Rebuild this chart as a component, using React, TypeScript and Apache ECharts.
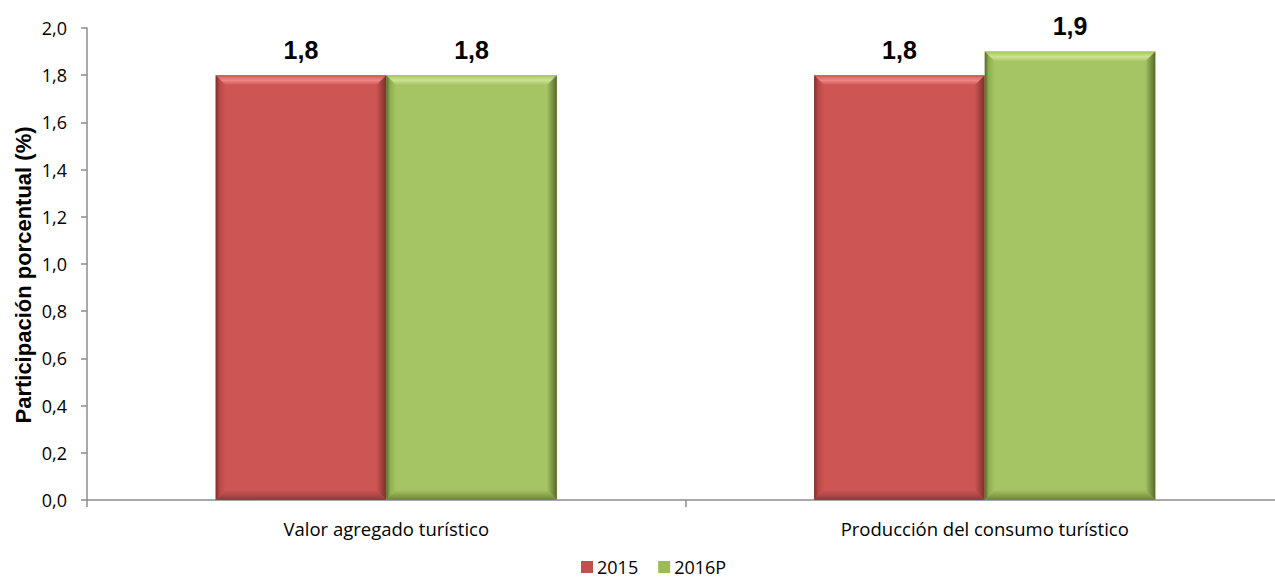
import React, { useEffect, useRef } from "react";
import * as echarts from "echarts";

const categories = ["Valor agregado turístico", "Producción del consumo turístico"];
const seriesNames = ["2015", "2016P"];
const values2015 = [1.8, 1.8];
const values2016 = [1.8, 1.9];
const yTicks = [0, 0.2, 0.4, 0.6, 0.8, 1.0, 1.2, 1.4, 1.6, 1.8, 2.0];
const yAxisTitle = "Participación porcentual (%)";

const palettes = [
  { face: "#CD5654", top: "#EE8785", left: "#B84846", right: "#7E2E2C", bottom: "#93393A", legend: "#C0504D" },
  { face: "#A5C463", top: "#CBE392", left: "#90AE50", right: "#56692A", bottom: "#6E8437", legend: "#9BBB59" },
];

const fmt = (v: number) => v.toFixed(1).replace(".", ",");

function makeRenderItem(seriesIdx: number) {
  return (params: any, api: any) => {
    const cat = api.value(0);
    const val = api.value(1);
    const top = api.coord([cat, val]);
    const base = api.coord([cat, 0]);
    const band = api.size([1, 0])[0];
    const bw = band * 0.285;
    const cx = top[0];
    const x0 = seriesIdx === 0 ? cx - bw : cx;
    const x1 = x0 + bw;
    const y0 = top[1];
    const y1 = base[1];
    const b = 10;
    const p = palettes[seriesIdx];
    return {
      type: "group",
      children: [
        { type: "rect", shape: { x: x0, y: y0, width: bw, height: y1 - y0 }, style: { fill: p.face } },
        {
          type: "polygon",
          shape: { points: [[x0, y0], [x1, y0], [x1 - b, y0 + b], [x0 + b, y0 + b]] },
          style: {
            fill: new echarts.graphic.LinearGradient(0, 0, 0, 1, [
              { offset: 0, color: p.face },
              { offset: 0.5, color: p.top },
              { offset: 1, color: p.face },
            ]),
          },
        },
        {
          type: "polygon",
          shape: { points: [[x0, y0], [x0 + b, y0 + b], [x0 + b, y1 - b], [x0, y1]] },
          style: {
            fill: new echarts.graphic.LinearGradient(0, 0, 1, 0, [
              { offset: 0, color: p.right },
              { offset: 0.4, color: p.left },
              { offset: 1, color: p.face },
            ]),
          },
        },
        {
          type: "polygon",
          shape: { points: [[x1, y0], [x1, y1], [x1 - b, y1 - b], [x1 - b, y0 + b]] },
          style: {
            fill: new echarts.graphic.LinearGradient(0, 0, 1, 0, [
              { offset: 0, color: p.face },
              { offset: 1, color: p.right },
            ]),
          },
        },
        {
          type: "polygon",
          shape: { points: [[x0, y1], [x0 + b, y1 - b], [x1 - b, y1 - b], [x1, y1]] },
          style: {
            fill: new echarts.graphic.LinearGradient(0, 0, 0, 1, [
              { offset: 0, color: p.face },
              { offset: 1, color: p.bottom },
            ]),
          },
        },
        {
          type: "text",
          x: (x0 + x1) / 2,
          y: y0 - 13,
          style: {
            text: fmt(val),
            fill: "#000",
            font: "bold 25px 'Liberation Sans', Arial, sans-serif",
            textAlign: "center",
            textVerticalAlign: "bottom",
          },
        },
      ],
    };
  };
}

export default function App() {
  const ref = useRef<HTMLDivElement>(null);
  useEffect(() => {
    if (!ref.current) return;
    const chart = echarts.init(ref.current, undefined, { renderer: "svg" });
    const all = [values2015, values2016];
    chart.setOption({
      animation: false,
      backgroundColor: "#fff",
      grid: { left: 87, right: 0, top: 28, bottom: 82, containLabel: false },
      graphic: [
        {
          type: "text",
          x: 23,
          y: 275,
          rotation: Math.PI / 2,
          style: {
            text: yAxisTitle,
            fill: "#000",
            font: "bold 22px 'Liberation Sans', Arial, sans-serif",
            textAlign: "center",
            textVerticalAlign: "middle",
          },
        },
      ],
      legend: {
        data: seriesNames.map((n, i) => ({ name: n, itemStyle: { color: palettes[i].legend } })),
        bottom: 1,
        left: 576,
        icon: "rect",
        itemWidth: 12,
        itemHeight: 12,
        itemGap: 20,
        textStyle: { fontFamily: "'Open Sans', sans-serif", fontSize: 18, color: "#000", padding: [0, 0, 0, -1] },
      },
      xAxis: {
        type: "category",
        data: categories,
        axisLine: { lineStyle: { color: "#8C8C8C", width: 1.5 } },
        axisTick: { show: true, length: 7, lineStyle: { color: "#8C8C8C", width: 1.5 } },
        axisLabel: { fontFamily: "'Open Sans', sans-serif", fontSize: 18.5, color: "#000", margin: 19 },
      },
      yAxis: {
        type: "value",
        min: 0,
        max: 2,
        interval: 0.2,
        axisLine: { show: true, lineStyle: { color: "#8C8C8C", width: 1.5 } },
        axisTick: { show: true, length: 6, lineStyle: { color: "#8C8C8C", width: 1.5 } },
        splitLine: { show: false },
        axisLabel: {
          fontFamily: "'Open Sans', sans-serif",
          fontSize: 18,
          color: "#000",
          margin: 20,
          formatter: (v: number) => (yTicks.some((t) => Math.abs(t - v) < 1e-9) ? fmt(v) : ""),
        },
      },
      series: all.map((vals, si) => ({
        type: "custom",
        name: seriesNames[si],
        itemStyle: { color: palettes[si].legend },
        data: vals.map((v, i) => [i, v]),
        encode: { x: 0, y: 1 },
        renderItem: makeRenderItem(si),
      })),
    });
    return () => chart.dispose();
  }, []);
  return (
    <div style={{ position: "absolute", left: 0, top: 0, width: 1275, height: 582, overflow: "hidden" }}>
      <div ref={ref} style={{ position: "absolute", left: 0, top: 0, width: 1284, height: 582 }} />
    </div>
  );
}
